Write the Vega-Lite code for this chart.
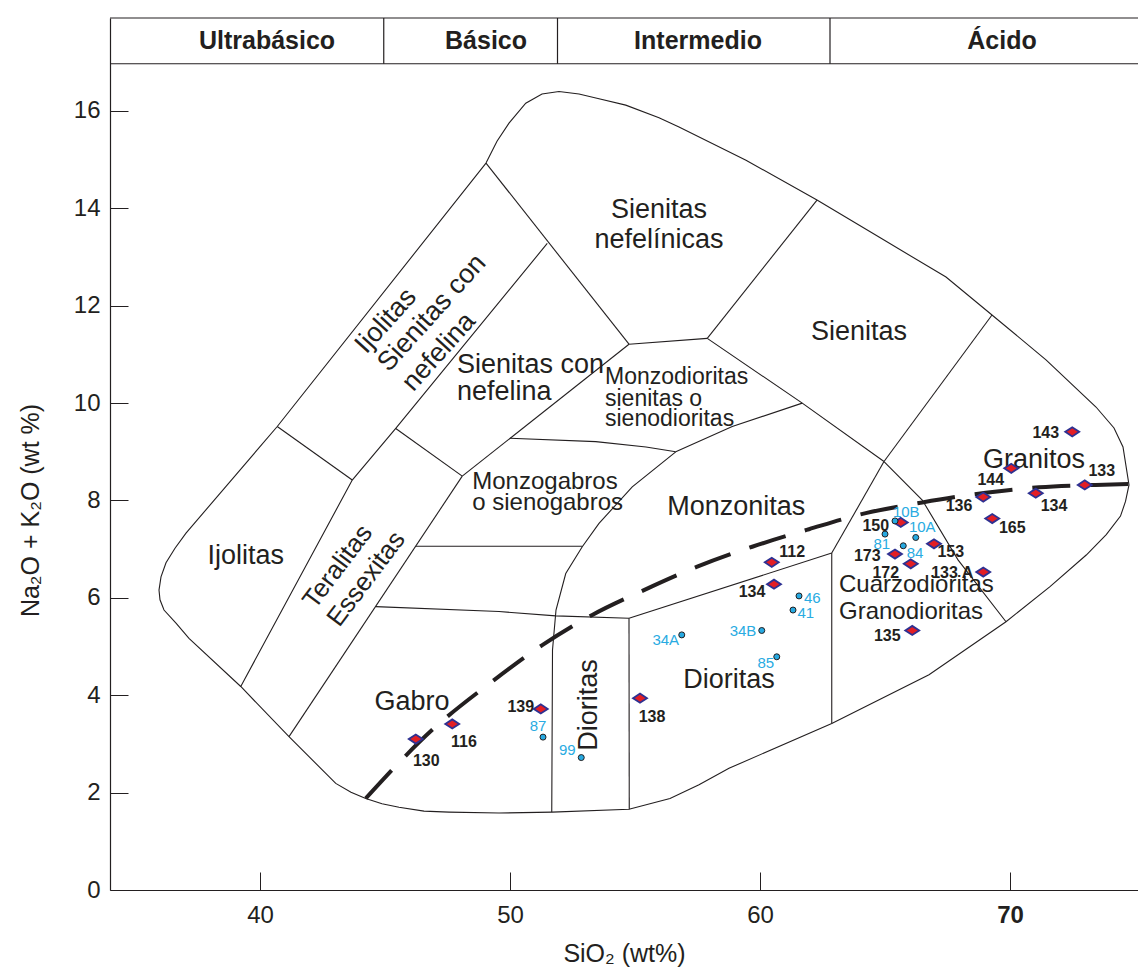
{
  "$schema": "https://vega.github.io/schema/vega-lite/v6.json",
  "width": 1028,
  "height": 872,
  "autosize": "none",
  "padding": {"left": 110, "top": 18, "right": 0, "bottom": 86},
  "background": "white",
  "config": {"view": {"stroke": null}, "font": "Liberation Sans"},
  "datasets": {
    "bounds": [
      {"s":"outer","o":1,"x":49.04,"y":14.93},{"s":"outer","o":2,"x":49.48,"y":15.38},{"s":"outer","o":3,"x":49.96,"y":15.75},{"s":"outer","o":4,"x":50.63,"y":16.16},{"s":"outer","o":5,"x":51.28,"y":16.35},{"s":"outer","o":6,"x":51.96,"y":16.40},{"s":"outer","o":7,"x":52.76,"y":16.35},{"s":"outer","o":8,"x":53.56,"y":16.25},{"s":"outer","o":9,"x":54.63,"y":16.12},{"s":"outer","o":10,"x":55.96,"y":15.86},{"s":"outer","o":11,"x":56.76,"y":15.67},{"s":"outer","o":12,"x":59.44,"y":14.99},{"s":"outer","o":13,"x":62.28,"y":14.17},{"s":"outer","o":14,"x":64.76,"y":13.41},{"s":"outer","o":15,"x":67.44,"y":12.59},{"s":"outer","o":16,"x":69.28,"y":11.81},{"s":"outer","o":17,"x":71.44,"y":10.89},{"s":"outer","o":18,"x":73.44,"y":9.92},{"s":"outer","o":19,"x":74.16,"y":9.49},{"s":"outer","o":20,"x":74.52,"y":9.10},{"s":"outer","o":21,"x":74.76,"y":8.32},{"s":"outer","o":22,"x":74.62,"y":7.98},{"s":"outer","o":23,"x":74.42,"y":7.68},{"s":"outer","o":24,"x":73.85,"y":7.30},{"s":"outer","o":25,"x":73.05,"y":6.88},{"s":"outer","o":26,"x":71.60,"y":6.23},{"s":"outer","o":27,"x":69.84,"y":5.51},{"s":"outer","o":28,"x":66.76,"y":4.42},{"s":"outer","o":29,"x":62.87,"y":3.42},{"s":"outer","o":30,"x":58.76,"y":2.50},{"s":"outer","o":31,"x":57.56,"y":2.16},{"s":"outer","o":32,"x":56.40,"y":1.88},{"s":"outer","o":33,"x":54.76,"y":1.66},{"s":"outer","o":34,"x":51.68,"y":1.60},{"s":"outer","o":35,"x":49.56,"y":1.58},{"s":"outer","o":36,"x":47.56,"y":1.60},{"s":"outer","o":37,"x":46.56,"y":1.62},{"s":"outer","o":38,"x":45.56,"y":1.70},{"s":"outer","o":39,"x":44.88,"y":1.77},{"s":"outer","o":40,"x":44.23,"y":1.88},{"s":"outer","o":41,"x":43.64,"y":2.01},{"s":"outer","o":42,"x":43.03,"y":2.19},{"s":"outer","o":43,"x":41.16,"y":3.15},{"s":"outer","o":44,"x":39.23,"y":4.18},{"s":"outer","o":45,"x":37.16,"y":5.17},{"s":"outer","o":46,"x":36.64,"y":5.48},{"s":"outer","o":47,"x":36.16,"y":5.75},{"s":"outer","o":48,"x":36.00,"y":5.96},{"s":"outer","o":49,"x":35.96,"y":6.16},{"s":"outer","o":50,"x":36.04,"y":6.43},{"s":"outer","o":51,"x":36.24,"y":6.72},{"s":"outer","o":52,"x":36.60,"y":7.02},{"s":"outer","o":53,"x":37.04,"y":7.33},{"s":"outer","o":54,"x":40.69,"y":9.52},{"s":"outer","o":55,"x":49.04,"y":14.93},
      {"s":"L2","o":1,"x":49.04,"y":14.93},{"s":"L2","o":2,"x":54.76,"y":11.21},
      {"s":"L3","o":1,"x":51.49,"y":13.28},{"s":"L3","o":2,"x":45.43,"y":9.48},{"s":"L3","o":3,"x":43.69,"y":8.42},{"s":"L3","o":4,"x":39.23,"y":4.18},
      {"s":"L4","o":1,"x":40.69,"y":9.52},{"s":"L4","o":2,"x":43.69,"y":8.42},
      {"s":"L5","o":1,"x":45.43,"y":9.48},{"s":"L5","o":2,"x":48.09,"y":8.50},
      {"s":"L6","o":1,"x":48.09,"y":8.50},{"s":"L6","o":2,"x":41.16,"y":3.15},
      {"s":"L7","o":1,"x":48.09,"y":8.50},{"s":"L7","o":2,"x":54.76,"y":11.21},
      {"s":"L8","o":1,"x":50.00,"y":9.28},{"s":"L8","o":2,"x":53.43,"y":9.21},{"s":"L8","o":3,"x":55.44,"y":9.10},{"s":"L8","o":4,"x":56.63,"y":9.00},
      {"s":"L9","o":1,"x":56.63,"y":9.00},{"s":"L9","o":2,"x":54.89,"y":8.28},{"s":"L9","o":3,"x":53.56,"y":7.53},{"s":"L9","o":4,"x":52.89,"y":7.05},{"s":"L9","o":5,"x":52.23,"y":6.50},{"s":"L9","o":6,"x":51.84,"y":5.75},{"s":"L9","o":7,"x":51.70,"y":4.93},{"s":"L9","o":8,"x":51.67,"y":1.60},
      {"s":"L10","o":1,"x":46.23,"y":7.06},{"s":"L10","o":2,"x":52.89,"y":7.06},
      {"s":"L11","o":1,"x":44.63,"y":5.82},{"s":"L11","o":2,"x":49.56,"y":5.72},{"s":"L11","o":3,"x":51.83,"y":5.63},{"s":"L11","o":4,"x":54.76,"y":5.58},
      {"s":"L12","o":1,"x":54.76,"y":5.58},{"s":"L12","o":2,"x":54.77,"y":1.66},
      {"s":"L13","o":1,"x":54.76,"y":5.58},{"s":"L13","o":2,"x":62.87,"y":6.92},
      {"s":"L14","o":1,"x":62.87,"y":6.92},{"s":"L14","o":2,"x":62.87,"y":3.42},
      {"s":"L15","o":1,"x":62.87,"y":6.92},{"s":"L15","o":2,"x":64.96,"y":8.80},
      {"s":"L16","o":1,"x":54.76,"y":11.21},{"s":"L16","o":2,"x":57.89,"y":11.33},
      {"s":"L17","o":1,"x":57.89,"y":11.33},{"s":"L17","o":2,"x":62.28,"y":14.17},
      {"s":"L18","o":1,"x":57.89,"y":11.33},{"s":"L18","o":2,"x":61.69,"y":10.00},{"s":"L18","o":3,"x":64.96,"y":8.80},
      {"s":"L19","o":1,"x":56.63,"y":9.00},{"s":"L19","o":2,"x":58.89,"y":9.52},{"s":"L19","o":3,"x":61.69,"y":10.00},
      {"s":"L20","o":1,"x":69.28,"y":11.81},{"s":"L20","o":2,"x":64.96,"y":8.80},
      {"s":"L21","o":1,"x":64.96,"y":8.80},{"s":"L21","o":2,"x":66.49,"y":8.01},{"s":"L21","o":3,"x":67.92,"y":6.78},{"s":"L21","o":4,"x":69.84,"y":5.51}
    ],
    "ib": [
      {"x":44.23,"y":1.88},{"x":46.89,"y":3.29},{"x":49.36,"y":4.31},{"x":51.29,"y":5.03},{"x":53.29,"y":5.65},{"x":55.36,"y":6.16},{"x":57.49,"y":6.64},{"x":59.69,"y":7.05},{"x":61.96,"y":7.41},{"x":64.23,"y":7.74},{"x":66.49,"y":7.96},{"x":69.03,"y":8.16},{"x":71.16,"y":8.27},{"x":73.43,"y":8.32},{"x":74.76,"y":8.34}
    ],
    "hlines": [
      {"x":34,"x2":75.12,"y":17.91},{"x":34,"x2":75.12,"y":16.97}
    ],
    "vdiv": [
      {"x":44.95,"y":16.97,"y2":17.91},{"x":51.9,"y":16.97,"y2":17.91},{"x":62.8,"y":16.97,"y2":17.91}
    ],
    "header": [
      {"t":"Ultrabásico","x":40.28,"y":17.44},{"t":"Básico","x":49.04,"y":17.44},{"t":"Intermedio","x":57.52,"y":17.44},{"t":"Ácido","x":69.68,"y":17.44}
    ],
    "rocks": [
      {"t":"130","x":46.23,"y":3.10},{"t":"116","x":47.69,"y":3.41},{"t":"139","x":51.23,"y":3.72},{"t":"138","x":55.20,"y":3.94},{"t":"134","x":60.56,"y":6.28},{"t":"112","x":60.47,"y":6.73},{"t":"150","x":65.63,"y":7.55},{"t":"173","x":65.40,"y":6.90},{"t":"172","x":66.03,"y":6.70},{"t":"153","x":66.96,"y":7.11},{"t":"133 A","x":68.93,"y":6.53},{"t":"135","x":66.09,"y":5.33},{"t":"136","x":68.93,"y":8.07},{"t":"144","x":70.05,"y":8.66},{"t":"143","x":72.49,"y":9.41},{"t":"133","x":72.99,"y":8.32},{"t":"134","x":71.03,"y":8.15},{"t":"165","x":69.29,"y":7.63}
    ],
    "rocklabels": [
      {"t":"130","x":46.65,"y":2.65},{"t":"116","x":48.16,"y":3.05},{"t":"139","x":50.43,"y":3.76},{"t":"138","x":55.68,"y":3.55},{"t":"134","x":59.68,"y":6.13},{"t":"112","x":61.29,"y":6.95},{"t":"150","x":64.63,"y":7.48},{"t":"173","x":64.29,"y":6.86},{"t":"172","x":65.03,"y":6.52},{"t":"153","x":67.63,"y":6.95},{"t":"133 A","x":67.69,"y":6.52},{"t":"135","x":65.09,"y":5.22},{"t":"136","x":67.96,"y":7.89},{"t":"144","x":69.23,"y":8.42},{"t":"143","x":71.43,"y":9.38},{"t":"133","x":73.67,"y":8.61},{"t":"134","x":71.76,"y":7.89},{"t":"165","x":70.09,"y":7.43}
    ],
    "dots": [
      {"t":"10B","x":65.40,"y":7.58},{"t":"81","x":65.00,"y":7.31},{"t":"10A","x":66.23,"y":7.24},{"t":"84","x":65.73,"y":7.07},{"t":"46","x":61.56,"y":6.04},{"t":"41","x":61.32,"y":5.75},{"t":"34B","x":60.07,"y":5.33},{"t":"34A","x":56.87,"y":5.24},{"t":"85","x":60.67,"y":4.79},{"t":"87","x":51.32,"y":3.14},{"t":"99","x":52.85,"y":2.72}
    ],
    "dotlabels": [
      {"t":"10B","x":65.85,"y":7.77},{"t":"81","x":64.87,"y":7.11},{"t":"10A","x":66.49,"y":7.45},{"t":"84","x":66.20,"y":6.92},{"t":"46","x":62.09,"y":5.99},{"t":"41","x":61.83,"y":5.68},{"t":"34B","x":59.32,"y":5.31},{"t":"34A","x":56.23,"y":5.13},{"t":"85","x":60.23,"y":4.67},{"t":"87","x":51.12,"y":3.37},{"t":"99","x":52.29,"y":2.88}
    ]
  },
  "layer": [
    {
      "data": {"name": "bounds"},
      "mark": {"type": "line", "color": "#231F20", "strokeWidth": 1.1},
      "encoding": {
        "x": {"field": "x", "type": "quantitative",
          "scale": {"domain": [34, 75.12], "nice": false, "zero": false},
          "axis": {"values": [40, 50, 60, 70], "grid": false, "domainColor": "#231F20", "domainWidth": 1.2,
            "tickColor": "#231F20", "tickSize": -18, "tickWidth": 1,
            "labelFont": "Liberation Sans", "labelFontSize": 24, "labelColor": "#231F20", "labelPadding": 31,
            "labelFontWeight": {"condition": {"test": "datum.value === 70", "value": "bold"}, "value": "normal"},
            "title": "SiO₂ (wt%)", "titleFont": "Liberation Sans", "titleFontSize": 25, "titleFontWeight": "normal",
            "titleColor": "#231F20", "titlePadding": 14}},
        "y": {"field": "y", "type": "quantitative",
          "scale": {"domain": [0, 17.91], "nice": false, "zero": false},
          "axis": {"values": [0, 2, 4, 6, 8, 10, 12, 14, 16], "grid": false, "domainColor": "#231F20", "domainWidth": 1.2,
            "tickColor": "#231F20", "tickSize": -18, "tickWidth": 1,
            "labelFont": "Liberation Sans", "labelFontSize": 24, "labelColor": "#231F20", "labelPadding": 28,
            "title": "Na₂O + K₂O (wt %)", "titleFont": "Liberation Sans", "titleFontSize": 25, "titleFontWeight": "normal",
            "titleColor": "#231F20", "titlePadding": 30, "titleY": 492}},
        "detail": {"field": "s"},
        "order": {"field": "o", "type": "quantitative"}
      }
    },
    {
      "data": {"name": "hlines"},
      "mark": {"type": "rule", "color": "#231F20", "strokeWidth": 1.2},
      "encoding": {
        "x": {"field": "x", "type": "quantitative"},
        "x2": {"field": "x2"},
        "y": {"field": "y", "type": "quantitative"}
      }
    },
    {
      "data": {"name": "vdiv"},
      "mark": {"type": "rule", "color": "#231F20", "strokeWidth": 1.2},
      "encoding": {
        "x": {"field": "x", "type": "quantitative"},
        "y": {"field": "y", "type": "quantitative"},
        "y2": {"field": "y2"}
      }
    },
    {
      "data": {"name": "header"},
      "mark": {"type": "text", "font": "Liberation Sans", "fontSize": 25, "fontWeight": "bold", "color": "#231F20", "align": "center", "baseline": "middle"},
      "encoding": {
        "x": {"field": "x", "type": "quantitative"},
        "y": {"field": "y", "type": "quantitative"},
        "text": {"field": "t"}
      }
    },
    {
      "data": {"name": "ib"},
      "mark": {"type": "line", "color": "#231F20", "strokeWidth": 4, "strokeDash": [38, 20], "interpolate": "monotone", "strokeCap": "butt"},
      "encoding": {
        "x": {"field": "x", "type": "quantitative"},
        "y": {"field": "y", "type": "quantitative"}
      }
    },
    {
      "data": {"values": [
        {"t":"Sienitas","x":55.96,"y":13.97},{"t":"nefelínicas","x":55.96,"y":13.35},
        {"t":"Sienitas","x":63.96,"y":11.47},{"t":"Monzonitas","x":59.05,"y":7.87},
        {"t":"Granitos","x":70.96,"y":8.83},{"t":"Dioritas","x":58.76,"y":4.31},
        {"t":"Gabro","x":46.08,"y":3.86},{"t":"Ijolitas","x":39.43,"y":6.85}
      ]},
      "mark": {"type": "text", "font": "Liberation Sans", "fontSize": 27, "color": "#231F20", "align": "center", "baseline": "middle"},
      "encoding": {
        "x": {"field": "x", "type": "quantitative"},
        "y": {"field": "y", "type": "quantitative"},
        "text": {"field": "t"}
      }
    },
    {
      "data": {"values": [
        {"t":"Sienitas con","x":47.88,"y":10.78},{"t":"nefelina","x":47.88,"y":10.23}
      ]},
      "mark": {"type": "text", "font": "Liberation Sans", "fontSize": 27, "color": "#231F20", "align": "left", "baseline": "middle"},
      "encoding": {
        "x": {"field": "x", "type": "quantitative"},
        "y": {"field": "y", "type": "quantitative"},
        "text": {"field": "t"}
      }
    },
    {
      "data": {"values": [
        {"t":"Cuarzodioritas","x":63.16,"y":6.26},{"t":"Granodioritas","x":63.16,"y":5.72},
        {"t":"Monzogabros","x":48.49,"y":8.39},{"t":"o sienogabros","x":48.49,"y":7.94}
      ]},
      "mark": {"type": "text", "font": "Liberation Sans", "fontSize": 24, "color": "#231F20", "align": "left", "baseline": "middle"},
      "encoding": {
        "x": {"field": "x", "type": "quantitative"},
        "y": {"field": "y", "type": "quantitative"},
        "text": {"field": "t"}
      }
    },
    {
      "data": {"values": [
        {"t":"Monzodioritas","x":53.80,"y":10.54},{"t":"sienitas o","x":53.80,"y":10.08},{"t":"sienodioritas","x":53.80,"y":9.67}
      ]},
      "mark": {"type": "text", "font": "Liberation Sans", "fontSize": 23, "color": "#231F20", "align": "left", "baseline": "middle"},
      "encoding": {
        "x": {"field": "x", "type": "quantitative"},
        "y": {"field": "y", "type": "quantitative"},
        "text": {"field": "t"}
      }
    },
    {
      "data": {"values": [
        {"t":"Ijolitas","x":45.04,"y":11.69},{"t":"Sienitas con","x":46.88,"y":11.85},{"t":"nefelina","x":47.16,"y":11.05}
      ]},
      "mark": {"type": "text", "font": "Liberation Sans", "fontSize": 27, "color": "#231F20", "align": "center", "baseline": "middle", "angle": 312},
      "encoding": {
        "x": {"field": "x", "type": "quantitative"},
        "y": {"field": "y", "type": "quantitative"},
        "text": {"field": "t"}
      }
    },
    {
      "data": {"values": [
        {"t":"Teralitas","x":43.11,"y":6.64},{"t":"Essexitas","x":44.25,"y":6.39}
      ]},
      "mark": {"type": "text", "font": "Liberation Sans", "fontSize": 26, "color": "#231F20", "align": "center", "baseline": "middle", "angle": 307},
      "encoding": {
        "x": {"field": "x", "type": "quantitative"},
        "y": {"field": "y", "type": "quantitative"},
        "text": {"field": "t"}
      }
    },
    {
      "data": {"values": [
        {"t":"Dioritas","x":53.16,"y":3.80}
      ]},
      "mark": {"type": "text", "font": "Liberation Sans", "fontSize": 27, "color": "#231F20", "align": "center", "baseline": "middle", "angle": 270},
      "encoding": {
        "x": {"field": "x", "type": "quantitative"},
        "y": {"field": "y", "type": "quantitative"},
        "text": {"field": "t"}
      }
    },
    {
      "data": {"name": "rocks"},
      "mark": {"type": "point", "shape": "M-1,0L0,-0.65L1,0L0,0.65Z", "size": 196, "filled": true, "fill": "#E31E24", "stroke": "#2E3192", "strokeWidth": 1.8, "opacity": 1},
      "encoding": {
        "x": {"field": "x", "type": "quantitative"},
        "y": {"field": "y", "type": "quantitative"}
      }
    },
    {
      "data": {"name": "dots"},
      "mark": {"type": "point", "shape": "circle", "size": 36, "filled": true, "fill": "#27A9E1", "stroke": "#231F20", "strokeWidth": 1, "opacity": 1},
      "encoding": {
        "x": {"field": "x", "type": "quantitative"},
        "y": {"field": "y", "type": "quantitative"}
      }
    },
    {
      "data": {"name": "rocklabels"},
      "mark": {"type": "text", "font": "Liberation Sans", "fontSize": 16, "fontWeight": "bold", "color": "#231F20", "align": "center", "baseline": "middle"},
      "encoding": {
        "x": {"field": "x", "type": "quantitative"},
        "y": {"field": "y", "type": "quantitative"},
        "text": {"field": "t"}
      }
    },
    {
      "data": {"name": "dotlabels"},
      "mark": {"type": "text", "font": "Liberation Sans", "fontSize": 15, "color": "#29ABE2", "align": "center", "baseline": "middle"},
      "encoding": {
        "x": {"field": "x", "type": "quantitative"},
        "y": {"field": "y", "type": "quantitative"},
        "text": {"field": "t"}
      }
    }
  ]
}
